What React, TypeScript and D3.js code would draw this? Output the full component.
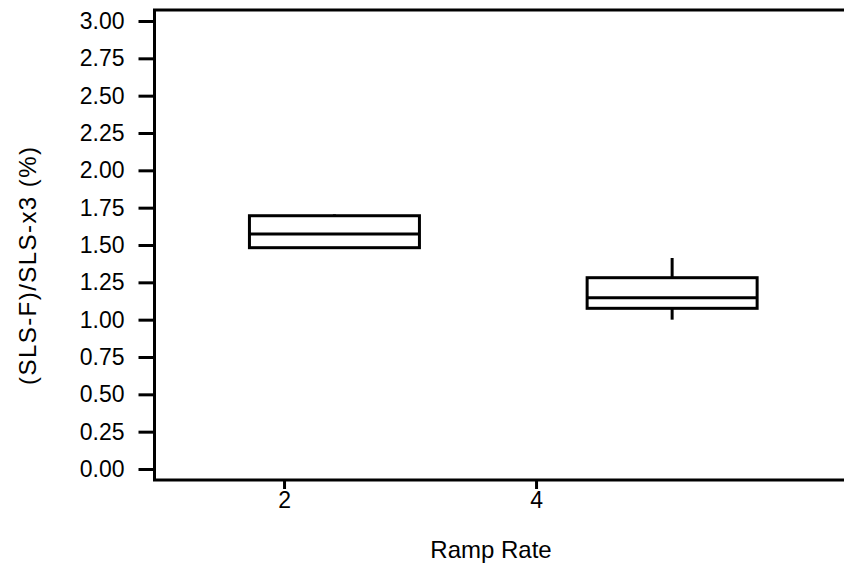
import React, { useRef, useEffect } from 'react';
import * as d3 from 'd3';

// ramp rate categories and where each box sits on the x scale
const categories = ['2', '4'];
const boxPositions = [2.4, 5.08];
const xTickValues = [2, 4];

// box statistics
const whiskerLow = [1.475, 1.0];
const q1 = [1.482, 1.076];
const median = [1.574, 1.147];
const q3 = [1.696, 1.281];
const whiskerHigh = [1.705, 1.413];

const yTickValues = [0, 0.25, 0.5, 0.75, 1.0, 1.25, 1.5, 1.75, 2.0, 2.25, 2.5, 2.75, 3.0];

function App() {
  const chartContainer = useRef<SVGSVGElement>(null);

  useEffect(() => {
    const width = 844;
    const height = 573;
    const left = 154.5;
    const top = 10;
    const bottom = 480;
    const font = 'Liberation Sans, Arial, sans-serif';

    const x = d3.scaleLinear()
      .domain([0.968, 6.444])
      .range([154, 844]);

    const y = d3.scaleLinear()
      .domain([0, 3])
      .range([469, 21]);

    const boxWidth = 170;

    const svg = d3.select(chartContainer.current);
    svg.selectAll('*').remove();
    svg.attr('width', width).attr('height', height);

    svg.append('rect').attr('width', width).attr('height', height).attr('fill', '#fff');

    // frame
    svg.append('path')
      .attr('d', `M844,${top}H${left}V${bottom}H844`)
      .attr('fill', 'none')
      .attr('stroke', '#000')
      .attr('stroke-width', 3);

    // y axis
    const yAxis = svg.append('g')
      .attr('transform', `translate(${left},0)`)
      .call(d3.axisLeft(y).tickValues(yTickValues).tickFormat(d3.format('.2f')).tickSize(16).tickPadding(14))
      .call(g => g.select('.domain').remove());
    yAxis.selectAll('.tick line').attr('stroke', '#000').attr('stroke-width', 3);
    yAxis.selectAll('.tick text')
      .attr('font-family', font)
      .attr('font-size', 23)
      .attr('fill', '#000');

    // x axis
    const xAxis = svg.append('g')
      .attr('transform', `translate(0,${bottom})`)
      .call(d3.axisBottom(x).tickValues(xTickValues).tickFormat((d, i) => categories[i]).tickSize(9).tickPadding(3))
      .call(g => g.select('.domain').remove());
    xAxis.selectAll('.tick line').attr('stroke', '#000').attr('stroke-width', 3);
    xAxis.selectAll('.tick text')
      .attr('font-family', font)
      .attr('font-size', 23)
      .attr('fill', '#000');

    // boxes
    const boxes = svg.append('g')
      .selectAll('g')
      .data(boxPositions.map((p, i) => ({ p, i })))
      .join('g');

    boxes.append('line')
      .attr('x1', d => x(d.p)).attr('x2', d => x(d.p))
      .attr('y1', d => y(whiskerHigh[d.i])).attr('y2', d => y(q3[d.i]))
      .attr('stroke', '#000').attr('stroke-width', 3);

    boxes.append('line')
      .attr('x1', d => x(d.p)).attr('x2', d => x(d.p))
      .attr('y1', d => y(q1[d.i])).attr('y2', d => y(whiskerLow[d.i]))
      .attr('stroke', '#000').attr('stroke-width', 3);

    boxes.append('rect')
      .attr('x', d => x(d.p) - boxWidth / 2)
      .attr('y', d => y(q3[d.i]))
      .attr('width', boxWidth)
      .attr('height', d => y(q1[d.i]) - y(q3[d.i]))
      .attr('fill', 'none')
      .attr('stroke', '#000')
      .attr('stroke-width', 3);

    boxes.append('line')
      .attr('x1', d => x(d.p) - boxWidth / 2).attr('x2', d => x(d.p) + boxWidth / 2)
      .attr('y1', d => y(median[d.i])).attr('y2', d => y(median[d.i]))
      .attr('stroke', '#000').attr('stroke-width', 3);

    // axis titles
    svg.append('text')
      .attr('x', 491)
      .attr('y', 558)
      .attr('text-anchor', 'middle')
      .attr('font-family', font)
      .attr('font-size', 24)
      .text('Ramp Rate');

    svg.append('text')
      .attr('transform', 'translate(36,266) rotate(-90)')
      .attr('text-anchor', 'middle')
      .attr('font-family', font)
      .attr('font-size', 24)
      .attr('textLength', 238)
      .attr('lengthAdjust', 'spacing')
      .text('(SLS-F)/SLS-x3 (%)');
  }, []);

  return (
    <svg
      ref={chartContainer}
      style={{ position: 'absolute', left: 0, top: 0, display: 'block' }}
    />
  );
}

export default App;
